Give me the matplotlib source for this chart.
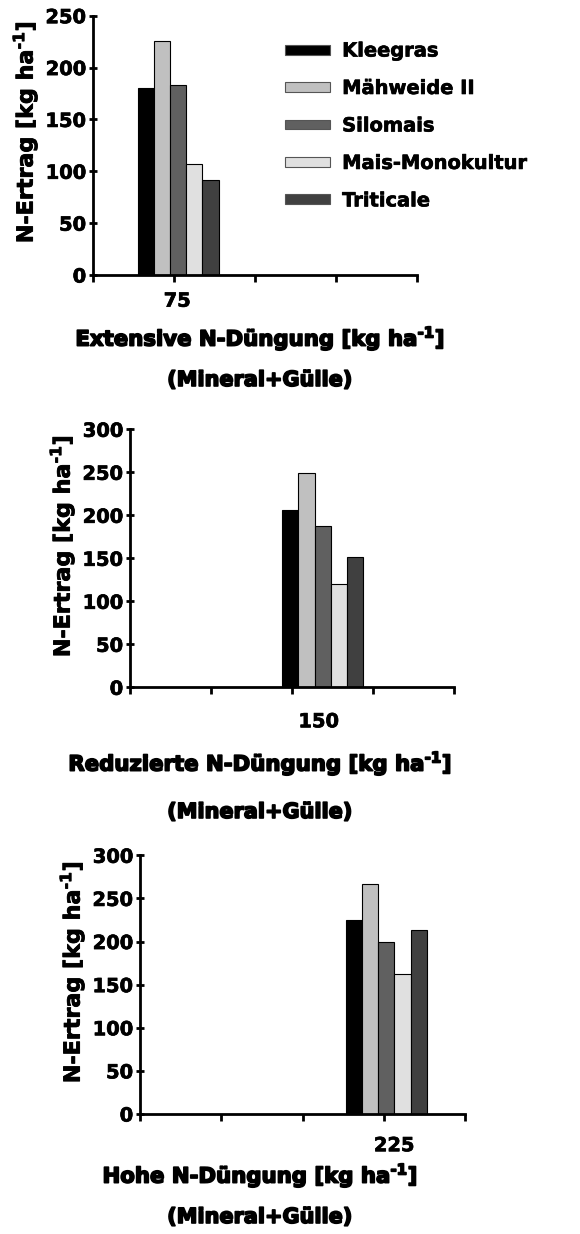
import matplotlib
matplotlib.use("Agg")
import matplotlib.pyplot as plt
import matplotlib.patheffects as pe

# --- data -------------------------------------------------------------
crops = ["Kleegras", "Mähweide II", "Silomais", "Mais-Monokultur", "Triticale"]
colors = ["#000000", "#c0c0c0", "#606060", "#e0e0e0", "#404040"]

n_levels = ["75", "150", "225"]
titles = ["Extensive N-Düngung [kg ha$^{\\text{-1}}$]",
          "Reduzierte N-Düngung [kg ha$^{\\text{-1}}$]",
          "Hohe N-Düngung [kg ha$^{\\text{-1}}$]"]
subtitle = "(Mineral+Gülle)"
ylabel = "N-Ertrag [kg ha$^{\\text{-1}}$]"

yield_extensive = [180, 226, 183, 107, 92]
yield_reduced = [206, 249, 187, 120, 152]
yield_high = [225, 267, 200, 162, 213]
yields = [yield_extensive, yield_reduced, yield_high]

ymax = [250, 300, 300]
yticks_step = 50

# --- layout (pixels on a 580 x 1234 canvas) ----------------------------
W, H = 580, 1234
panels = [
    dict(box=(93, 417, 15.7, 275.0), centre=1.05, lab_x=1.04, ylab=(25, 132), title_y=338, sub_y=380, pad=13),
    dict(box=(130, 454, 429.3, 687.3), centre=2.38, lab_x=2.33, ylab=(62, 546), title_y=763, sub_y=812, pad=19),
    dict(box=(140, 465, 855.3, 1114.0), centre=3.03, lab_x=3.13, ylab=(72, 972), title_y=1175, sub_y=1217, pad=17),
]
bar_w = 0.2

plt.rcParams["font.family"] = ["DejaVu Sans"]
plt.rcParams["font.weight"] = "bold"
plt.rcParams["mathtext.default"] = "bf"
plt.rcParams["mathtext.fontset"] = "dejavusans"

fig = plt.figure(figsize=(W / 100, H / 100), dpi=100)
heavy = [pe.withStroke(linewidth=1.2, foreground="black")]
semi = [pe.withStroke(linewidth=0.6, foreground="black")]


def fx(x):
    return x / W


def fy(y):
    return 1 - y / H


for i, (p, vals) in enumerate(zip(panels, yields)):
    l, r, t, b = p["box"]
    ax = fig.add_axes([fx(l), fy(b), (r - l) / W, (b - t) / H])
    n = len(vals)
    for k, (v, c, name) in enumerate(zip(vals, colors, crops)):
        xpos = p["centre"] + (k - (n - 1) / 2) * bar_w
        ax.bar(xpos, v, width=bar_w, color=c, edgecolor="black",
               linewidth=0.8, label=name, zorder=2)
    ax.set_xlim(0, 4)
    ax.set_ylim(0, ymax[i])
    for s in ("top", "right"):
        ax.spines[s].set_visible(False)
    for s in ("left", "bottom"):
        ax.spines[s].set_linewidth(2.0)
        ax.spines[s].set_zorder(3)
    ax.set_xticks([0, 1, 2, 3, 4])
    ax.set_xticklabels([])
    ax.tick_params(axis="x", which="major", direction="out", length=5, width=2)
    ax.set_xticks([p["lab_x"]], labels=[n_levels[i]], minor=True)
    ax.tick_params(axis="x", which="minor", length=0, pad=p["pad"] - 1, labelsize=14)
    ax.set_yticks(range(0, ymax[i] + 1, yticks_step))
    ax.tick_params(axis="y", direction="inout", length=6, width=2, pad=2, labelsize=14)
    for lab in ax.get_yticklabels() + ax.get_xticklabels(minor=True):
        lab.set_fontweight("bold")
        lab.set_path_effects([pe.withStroke(linewidth=0.5, foreground="black")])

    fig.text(fx(p["ylab"][0]), fy(p["ylab"][1]), ylabel,
             rotation=90, ha="center", va="center", fontsize=16, fontweight="bold",
             path_effects=semi)
    fig.text(fx(260), fy(p["title_y"]), titles[i], ha="center", va="center",
             fontsize=15.3, fontweight="bold", path_effects=heavy)
    fig.text(fx(260), fy(p["sub_y"]), subtitle, ha="center", va="center",
             fontsize=15, fontweight="bold", path_effects=heavy)

    if i == 0:
        leg = ax.legend(loc="upper left", bbox_to_anchor=(fx(285), fy(41.5)),
                        bbox_transform=fig.transFigure, frameon=False,
                        fontsize=14, handlelength=2.32, handleheight=0.41,
                        handletextpad=0.62, labelspacing=0.95,
                        borderpad=0, borderaxespad=0)
        for txt in leg.get_texts():
            txt.set_fontweight("bold")
            txt.set_path_effects([pe.withStroke(linewidth=0.5, foreground="black")])
        for h in leg.legend_handles:
            h.set_edgecolor("#555555")

fig.savefig("out.png", dpi=100)
